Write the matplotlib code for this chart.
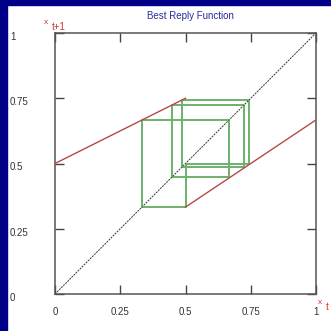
import matplotlib
matplotlib.use("Agg")
import matplotlib.pyplot as plt
import matplotlib.transforms as mtransforms
from matplotlib.patches import Rectangle

# best reply function, two linear pieces
left_x = [0.0, 0.5]
left_y = [0.5, 0.75]
right_x = [0.5, 1.0]
right_y = [0.333, 0.667]

# 45 degree line
diag = [0.0, 1.0]

# cobweb iterates (closes back on the start)
cobweb = [0.333, 0.667, 0.448, 0.724, 0.487, 0.744, 0.5, 0.333]

ticks = [0, 0.25, 0.5, 0.75, 1]
tick_labels = ["0", "0.25", "0.5", "0.75", "1"]

W = 331
fig = plt.figure(figsize=(3.31, 3.31), dpi=100, facecolor="white")

# navy frame on the top and left edge
fig.patches.append(Rectangle((0, 1 - 5 / W), 1, 5 / W, transform=fig.transFigure,
                             color="#000088", zorder=0))
fig.patches.append(Rectangle((0, 0), 7 / W, 1, transform=fig.transFigure,
                             color="#000088", zorder=0))

ax = fig.add_axes([55 / W, 37 / W, 261 / W, 261 / W])
ax.set_xlim(0, 1)
ax.set_ylim(0, 1)

ax.plot(diag, diag, color="#333333", lw=0.7, ls=(0, (2, 1)), clip_on=False, zorder=2)
ax.plot(left_x, left_y, color="#b84848", lw=1.0, zorder=3)
ax.plot(right_x, right_y, color="#b84848", lw=1.0, zorder=3)

# staircase: (x0,x0) -> (x0,x1) -> (x1,x1) -> (x1,x2) ...
px, py = [cobweb[0]], [cobweb[0]]
for a, b in zip(cobweb[:-1], cobweb[1:]):
    px += [a, b]
    py += [b, b]
ax.plot(px, py, color="#3c963c", lw=1.4, alpha=0.75, zorder=2)

for s in ax.spines.values():
    s.set_color("#555555")
    s.set_linewidth(1.1)
ax.set_xticks(ticks)
ax.set_yticks(ticks)
ax.set_xticklabels([])
ax.set_yticklabels([])
ax.tick_params(direction="in", length=6.5, width=1.0, color="#444444",
               top=True, right=True)

fnt = dict(family="Liberation Sans", fontsize=7, color="#333333")

# y labels sit flush left near the frame, a little below their tick
ytr = mtransforms.offset_copy(
    mtransforms.blended_transform_factory(fig.transFigure, ax.transData),
    fig=fig, x=0, y=-4, units="dots")
for v, lab in zip(ticks, tick_labels):
    ax.text(10 / W, v, lab, transform=ytr, ha="left", va="center", **fnt)

xtr = mtransforms.blended_transform_factory(ax.transData, fig.transFigure)
for v, lab in zip(ticks, tick_labels):
    ax.text(v, 1 - 312 / W, lab, transform=xtr, ha="center", va="center", **fnt)

fig.text(190 / W, 1 - 16 / W, "Best Reply Function", ha="center", va="center",
         family="Liberation Sans", fontsize=7, color="#2a2a9c")

red = dict(family="Liberation Sans", color="#cc3333", va="center")
fig.text(44 / W, 1 - 22 / W, "x", fontsize=6, **red)
fig.text(52 / W, 1 - 27 / W, "t+1", fontsize=7, **red)
fig.text(318 / W, 1 - 303 / W, "x", fontsize=6, **red)
fig.text(326 / W, 1 - 307 / W, "t", fontsize=7, **red)

fig.savefig("out.png", dpi=100, facecolor="white")
